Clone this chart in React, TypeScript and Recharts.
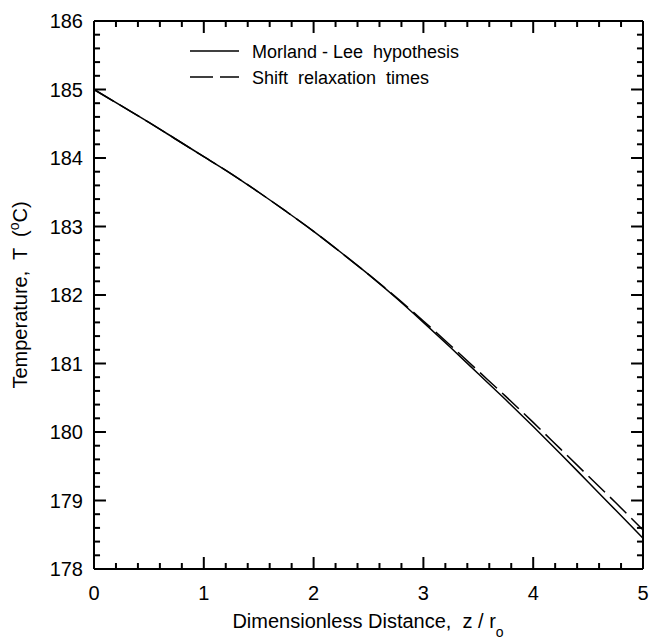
import { LineChart, Line, XAxis, YAxis, ReferenceLine } from 'recharts';

const FONT = '"Liberation Sans", Arial, Helvetica, sans-serif';

const distance = [0, 0.25, 0.5, 0.75, 1, 1.25, 1.5, 1.75, 2, 2.25, 2.5, 2.75, 3, 3.25, 3.5, 3.75, 4, 4.25, 4.5, 4.75, 5];
const morlandLee = [185.0, 184.76, 184.52, 184.27, 184.02, 183.77, 183.5, 183.22, 182.93, 182.62, 182.3, 181.96, 181.6, 181.23, 180.85, 180.47, 180.08, 179.68, 179.27, 178.86, 178.45];
const shiftTimes = [185.0, 184.76, 184.52, 184.27, 184.02, 183.77, 183.5, 183.22, 182.93, 182.62, 182.3, 181.97, 181.62, 181.26, 180.89, 180.52, 180.14, 179.75, 179.36, 178.97, 178.57];

const xTicks = [0, 0.2, 0.4, 0.6, 0.8, 1, 1.2, 1.4, 1.6, 1.8, 2, 2.2, 2.4, 2.6, 2.8, 3, 3.2, 3.4, 3.6, 3.8, 4, 4.2, 4.4, 4.6, 4.8, 5];
const yTicks = [
  178, 178.2, 178.4, 178.6, 178.8, 179, 179.2, 179.4, 179.6, 179.8,
  180, 180.2, 180.4, 180.6, 180.8, 181, 181.2, 181.4, 181.6, 181.8,
  182, 182.2, 182.4, 182.6, 182.8, 183, 183.2, 183.4, 183.6, 183.8,
  184, 184.2, 184.4, 184.6, 184.8, 185, 185.2, 185.4, 185.6, 185.8, 186,
];

const legendNames = ['Morland - Lee  hypothesis', 'Shift  relaxation  times'];

const data = distance.map((z, i) => ({ z, ml: morlandLee[i], shift: shiftTimes[i] }));

const X_MIN = 0;
const X_MAX = 5;
const Y_MIN = 178;
const Y_MAX = 186;

// inward tick lengths in data units (about 12px major / 6px minor)
const TICK_Y = { major: 0.175, minor: 0.088 };
const TICK_X = { major: 0.109, minor: 0.055 };
const DASH = '23 7';

const isMajor = (v: number) => Math.abs(v - Math.round(v)) < 1e-6;

const BottomLabel = (props: any) => {
  const x = Number(props.x);
  const y = Number(props.y);
  if (!isMajor(props.payload.value)) return <g />;
  return (
    <text x={x} y={y + 31} textAnchor="middle" fontSize={20} fontFamily={FONT} fill="#000">
      {Math.round(props.payload.value)}
    </text>
  );
};

const LeftLabel = (props: any) => {
  const x = Number(props.x);
  const y = Number(props.y);
  if (!isMajor(props.payload.value)) return <g />;
  return (
    <text x={x - 11} y={y + 7} textAnchor="end" fontSize={20} fontFamily={FONT} fill="#000">
      {Math.round(props.payload.value)}
    </text>
  );
};

// titles + legend drawn as an overlay on top of the chart svg
const Overlay = () => (
  <svg width={650} height={643} style={{ position: 'absolute', left: 0, top: 0, pointerEvents: 'none' }}>
    <g fontFamily={FONT} fill="#000">
      <line x1={190} x2={239} y1={51} y2={51} stroke="#000" strokeWidth={1.5} />
      <text x={252} y={58} fontSize={18} style={{ whiteSpace: 'pre' }}>{legendNames[0]}</text>
      <line x1={190} x2={239} y1={77} y2={77} stroke="#000" strokeWidth={1.5} strokeDasharray={DASH} />
      <text x={252} y={84} fontSize={18} style={{ whiteSpace: 'pre' }}>{legendNames[1]}</text>

      <text x={368} y={628} textAnchor="middle" fontSize={20} style={{ whiteSpace: 'pre' }}>
        Dimensionless Distance,  z / r
        <tspan fontSize={14} dy={9}>o</tspan>
      </text>

      <text
        x={27}
        y={295}
        transform="rotate(-90, 27, 295)"
        textAnchor="middle"
        fontSize={20}
        style={{ whiteSpace: 'pre' }}
      >
        Temperature,  T  (
        <tspan fontSize={14} dy={-8}>o</tspan>
        <tspan dy={8}>C)</tspan>
      </text>
    </g>
  </svg>
);

const ink = { stroke: '#000', strokeWidth: 2, ifOverflow: 'visible' as const, xAxisId: 'bottom', yAxisId: 'left' };

export default function App() {
  return (
    <div style={{ position: 'absolute', left: 0, top: 0 }}>
      <LineChart width={650} height={643} data={data} margin={{ top: 21, right: 7, left: 0, bottom: 0 }}>
        <XAxis
          xAxisId="bottom"
          dataKey="z"
          type="number"
          domain={[X_MIN, X_MAX]}
          ticks={xTicks}
          interval={0}
          height={74}
          tickSize={0}
          tickMargin={0}
          tickLine={false}
          tick={<BottomLabel />}
          axisLine={{ stroke: '#000', strokeWidth: 2 }}
        />
        <YAxis
          yAxisId="left"
          type="number"
          domain={[Y_MIN, Y_MAX]}
          ticks={yTicks}
          interval={0}
          width={94}
          tickSize={0}
          tickMargin={0}
          tickLine={false}
          tick={<LeftLabel />}
          axisLine={{ stroke: '#000', strokeWidth: 2 }}
        />

        {/* frame */}
        <ReferenceLine {...ink} y={Y_MAX} />
        <ReferenceLine {...ink} x={X_MAX} />
        <ReferenceLine {...ink} y={Y_MIN} />
        <ReferenceLine {...ink} x={X_MIN} />

        {/* inward ticks on all four sides */}
        {xTicks.map((v) => {
          const len = isMajor(v) ? TICK_Y.major : TICK_Y.minor;
          return [
            <ReferenceLine key={`b${v}`} {...ink} segment={[{ x: v, y: Y_MIN }, { x: v, y: Y_MIN + len }]} />,
            <ReferenceLine key={`t${v}`} {...ink} segment={[{ x: v, y: Y_MAX }, { x: v, y: Y_MAX - len }]} />,
          ];
        })}
        {yTicks.map((v) => {
          const len = isMajor(v) ? TICK_X.major : TICK_X.minor;
          return [
            <ReferenceLine key={`l${v}`} {...ink} segment={[{ x: X_MIN, y: v }, { x: X_MIN + len, y: v }]} />,
            <ReferenceLine key={`r${v}`} {...ink} segment={[{ x: X_MAX, y: v }, { x: X_MAX - len, y: v }]} />,
          ];
        })}

        <Line
          xAxisId="bottom"
          yAxisId="left"
          type="monotone"
          dataKey="ml"
          stroke="#000"
          strokeWidth={1.5}
          dot={false}
          isAnimationActive={false}
        />
        <Line
          xAxisId="bottom"
          yAxisId="left"
          type="monotone"
          dataKey="shift"
          stroke="#000"
          strokeWidth={1.5}
          strokeDasharray={DASH}
          dot={false}
          isAnimationActive={false}
        />
      </LineChart>
      <Overlay />
    </div>
  );
}
